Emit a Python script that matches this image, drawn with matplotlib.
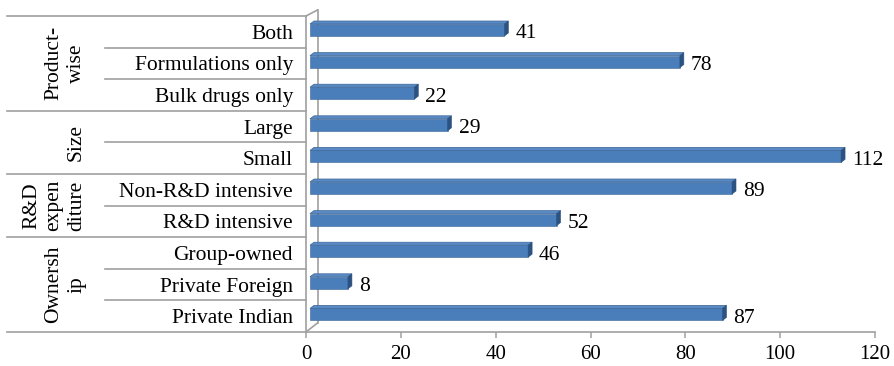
import matplotlib
matplotlib.use("Agg")
import matplotlib.pyplot as plt
from matplotlib.patches import Polygon
import numpy as np

# Kategorien von unten nach oben
categories = ["Private Indian", "Private Foreign", "Group-owned",
              "R&D intensive", "Non-R&D intensive",
              "Small", "Large",
              "Bulk drugs only", "Formulations only", "Both"]
values = [87, 8, 46, 52, 89, 112, 29, 22, 78, 41]

# Obergruppen (Beschriftung, Anzahl Zeilen), ebenfalls von unten
group_labels = ["Ownersh\nip", "R&D\nexpen\nditure", "Size", "Product-\nwise"]
group_sizes = [3, 2, 2, 3]

x_ticks = [0, 20, 40, 60, 80, 100, 120]

plt.rcParams['font.family'] = ['Liberation Serif', 'DejaVu Serif']

W, H, DPI = 894, 366, 100
fig = plt.figure(figsize=(W / DPI, H / DPI), dpi=DPI)

# Achsenbereich in Pixeln
ax_l, ax_r, ax_t, ax_b = 306, 875, 16, 332
ax = fig.add_axes([ax_l / W, 1 - ax_b / H, (ax_r - ax_l) / W, (ax_b - ax_t) / H])

n = len(categories)
xmax = 120
ax.set_xlim(0, xmax)
ax.set_ylim(-0.5, n - 0.5)

# Pixel -> Dateneinheiten
ppx = (ax_r - ax_l) / xmax
ppy = (ax_b - ax_t) / n

grey = '#A0A0A0'
bar_front = '#4A7EBB'
bar_top = '#5A8AC6'
bar_side = '#2C5282'
bar_edge = '#3A6595'

# 3D-Balken: Vorderseite, Oberseite, rechte Seite
y = np.arange(n)
h = 12 / ppy
shift = 1.8 / ppy
x0 = 4 / ppx
dx = 4 / ppx
dy = 3 / ppy

ax.barh(y + shift, values, left=x0, height=h, color=bar_front,
        edgecolor=bar_edge, linewidth=0.4, zorder=3)
for yi, v in zip(y, values):
    top = yi + shift + h / 2
    bot = yi + shift - h / 2
    right = x0 + v
    ax.add_patch(Polygon([(x0, top), (right, top), (right + dx, top + dy), (x0 + dx, top + dy)],
                         closed=True, facecolor=bar_top, edgecolor=bar_edge, linewidth=0.5, zorder=3))
    ax.add_patch(Polygon([(right, bot), (right + dx, bot + dy), (right + dx, top + dy), (right, top)],
                         closed=True, facecolor=bar_side, edgecolor=bar_side, linewidth=0.4, zorder=3))
    ax.annotate(str(v), xy=(v, yi), xytext=(15, -2), textcoords='offset pixels',
                ha='left', va='center', fontsize=15.5, color='black', zorder=4,
                annotation_clip=False)

# Seitenwand (3D-Effekt der Kategorieachse)
wdx = 11.5 / ppx
ax.plot([0, wdx], [n - 0.5, n - 0.5 + 6 / ppy], color=grey, lw=1.2, clip_on=False, zorder=2)
ax.plot([wdx, wdx], [n - 0.5 + 6 / ppy, -0.5 + 9 / ppy], color=grey, lw=1.2, clip_on=False, zorder=2)
ax.plot([0, wdx], [-0.5, -0.5 + 9 / ppy], color=grey, lw=1.2, clip_on=False, zorder=2)

# Achsen
for side in ['top', 'right']:
    ax.spines[side].set_visible(False)
ax.spines['left'].set_color(grey)
ax.spines['left'].set_linewidth(1.2)
ax.spines['bottom'].set_color(grey)
ax.spines['bottom'].set_linewidth(1.2)

ax.set_xticks(x_ticks)
ax.set_xticklabels([str(t) for t in x_ticks], fontsize=15)
ax.tick_params(axis='x', direction='out', length=4, width=1.1, color=grey, pad=5.5)

ax.set_yticks(y)
ax.set_yticklabels(categories, fontsize=15.5)
ax.tick_params(axis='y', length=0, pad=9.4)

# Tabelle der Gruppen links von der Achse
trans = ax.get_yaxis_transform()
x_full = (7 - ax_l) / (ax_r - ax_l)
x_inner = (105 - ax_l) / (ax_r - ax_l)
x_group = (86 - ax_l) / (ax_r - ax_l)

start = 0
ax.plot([x_full, 0], [-0.5, -0.5], color=grey, lw=1.2, transform=trans, clip_on=False)
for label, size in zip(group_labels, group_sizes):
    end = start + size
    ax.plot([x_full, 0], [end - 0.5, end - 0.5], color=grey, lw=1.2, transform=trans, clip_on=False)
    for k in range(start + 1, end):
        ax.plot([x_inner, 0], [k - 0.5, k - 0.5], color=grey, lw=1.2, transform=trans, clip_on=False)
    ax.text(x_group, (start + end - 1) / 2, label, transform=trans, rotation=90,
            ha='right', va='center', multialignment='center', fontsize=15.5,
            linespacing=1.25)
    start = end

fig.savefig("out.png", dpi=DPI, facecolor='white')
